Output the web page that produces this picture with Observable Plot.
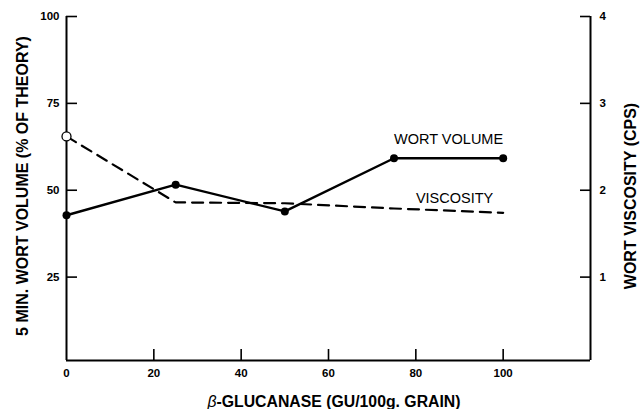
<!DOCTYPE html>
<html><head><meta charset="utf-8">
<script src="https://cdn.jsdelivr.net/npm/d3@7"></script>
<script src="https://cdn.jsdelivr.net/npm/@observablehq/plot@0.6"></script>
<style>body{margin:0;background:#fff}</style>
</head><body><div id="chart"></div>
<script>
// β-glucanase dose (GU/100 g grain)
const dose = [0, 25, 50, 75, 100];
// 5 min wort volume (% of theory)
const wortVolume = [42.8, 51.6, 43.9, 59.2, 59.2];
// wort viscosity (cps)
const viscosity = [2.62, 1.86, 1.85, 1.79, 1.74];
const xTicks = [0, 20, 40, 60, 80, 100];
const yTicksLeft = [25, 50, 75, 100];
const yTicksRight = [1, 2, 3, 4];
const seriesNames = ["WORT VOLUME", "VISCOSITY"];
const xTitle = ["β", "-GLUCANASE (GU/100g. GRAIN)"];
const yTitleLeft = "5 MIN. WORT VOLUME (% OF THEORY)";
const yTitleRight = "WORT VISCOSITY (CPS)";
const cpsToPct = 25; // right axis 4 cps == left axis 100 %

const vol = dose.map((x, i) => ({x, y: wortVolume[i]}));
const visc = dose.map((x, i) => ({x, y: viscosity[i] * cpsToPct}));
const volLabel = [{text: seriesNames[0], x: (dose[3] + dose[4]) / 2, y: (wortVolume[3] + wortVolume[4]) / 2}];
const viscLabel = [{text: seriesNames[1], x: (dose[3] + dose[4]) / 2, y: (viscosity[3] + viscosity[4]) / 2 * cpsToPct}];

const font = "'Liberation Sans', Arial, Helvetica, sans-serif";
const W = 642, H = 409, mL = 66, mR = 52, mT = 16, mB = 49;
const frameW = W - mL - mR, frameH = H - mT - mB;

const chart = Plot.plot({
  width: W, height: H,
  marginLeft: mL, marginRight: mR, marginTop: mT, marginBottom: mB,
  style: {fontFamily: font, background: "#fff", color: "#000"},
  x: {domain: [0, 120]},
  y: {domain: [1, 100]},
  marks: [
    // inward tick marks
    Plot.ruleX(xTicks.slice(1), {x: d => d, insetTop: frameH - 11, stroke: "#000", strokeWidth: 1.6}),
    Plot.ruleY(yTicksLeft, {y: d => d, insetRight: frameW - 11, stroke: "#000", strokeWidth: 1.6}),
    Plot.ruleY(yTicksRight.map(v => v * cpsToPct), {y: d => d, insetLeft: frameW - 10, stroke: "#000", strokeWidth: 1.6}),
    // tick labels
    Plot.axisX({ticks: xTicks, tickSize: 0, tickPadding: 8, tickFormat: d => d, fontSize: 11.5, fontWeight: "bold", label: null}),
    Plot.axisY({anchor: "left", ticks: yTicksLeft, tickSize: 0, tickPadding: 7, fontSize: 11.5, fontWeight: "bold", label: null}),
    Plot.axisY({anchor: "right", ticks: yTicksRight.map(v => v * cpsToPct), tickFormat: d => d / cpsToPct, tickSize: 0, tickPadding: 9, fontSize: 11.5, fontWeight: "bold", label: null}),
    // frame lines
    Plot.ruleX([0, 120], {stroke: "#000", strokeWidth: 2}),
    Plot.ruleY([1], {stroke: "#000", strokeWidth: 2}),
    // data
    Plot.line(visc, {x: "x", y: "y", stroke: "#000", strokeWidth: 2.2, strokeDasharray: "11,7"}),
    Plot.line(vol, {x: "x", y: "y", stroke: "#000", strokeWidth: 2.4}),
    Plot.dot(visc.filter(d => d.x === dose[0]), {x: "x", y: "y", r: 4.5, fill: "#fff", stroke: "#000", strokeWidth: 1.3}),
    Plot.dot(vol, {x: "x", y: "y", r: 4, fill: "#000"}),
    Plot.text(volLabel, {x: "x", y: "y", text: "text", dy: -19, fontSize: 14.5, fill: "#000"}),
    Plot.text(viscLabel, {x: "x", y: "y", text: "text", dy: -12, dx: 6, fontSize: 14.5, fill: "#000"})
  ]
});

const svg = d3.select(chart);
svg.append("text")
  .attr("transform", `translate(22,186) rotate(-90)`)
  .attr("text-anchor", "middle").attr("dominant-baseline", "central")
  .attr("font-family", font).attr("font-weight", "bold").attr("font-size", 16)
  .attr("fill", "#000").text(yTitleLeft);
svg.append("text")
  .attr("transform", `translate(630,196) rotate(-90)`)
  .attr("text-anchor", "middle").attr("dominant-baseline", "central")
  .attr("font-family", font).attr("font-weight", "bold").attr("font-size", 16)
  .attr("fill", "#000").text(yTitleRight);
const xt = svg.append("text")
  .attr("x", 334).attr("y", 401)
  .attr("text-anchor", "middle").attr("dominant-baseline", "central")
  .attr("font-family", font).attr("font-weight", "bold").attr("font-size", 15.8)
  .attr("fill", "#000");
xt.append("tspan").attr("font-style", "italic").attr("font-weight", "normal").text(xTitle[0]);
xt.append("tspan").text(xTitle[1]);

document.getElementById("chart").appendChild(chart);
</script>
</body></html>
